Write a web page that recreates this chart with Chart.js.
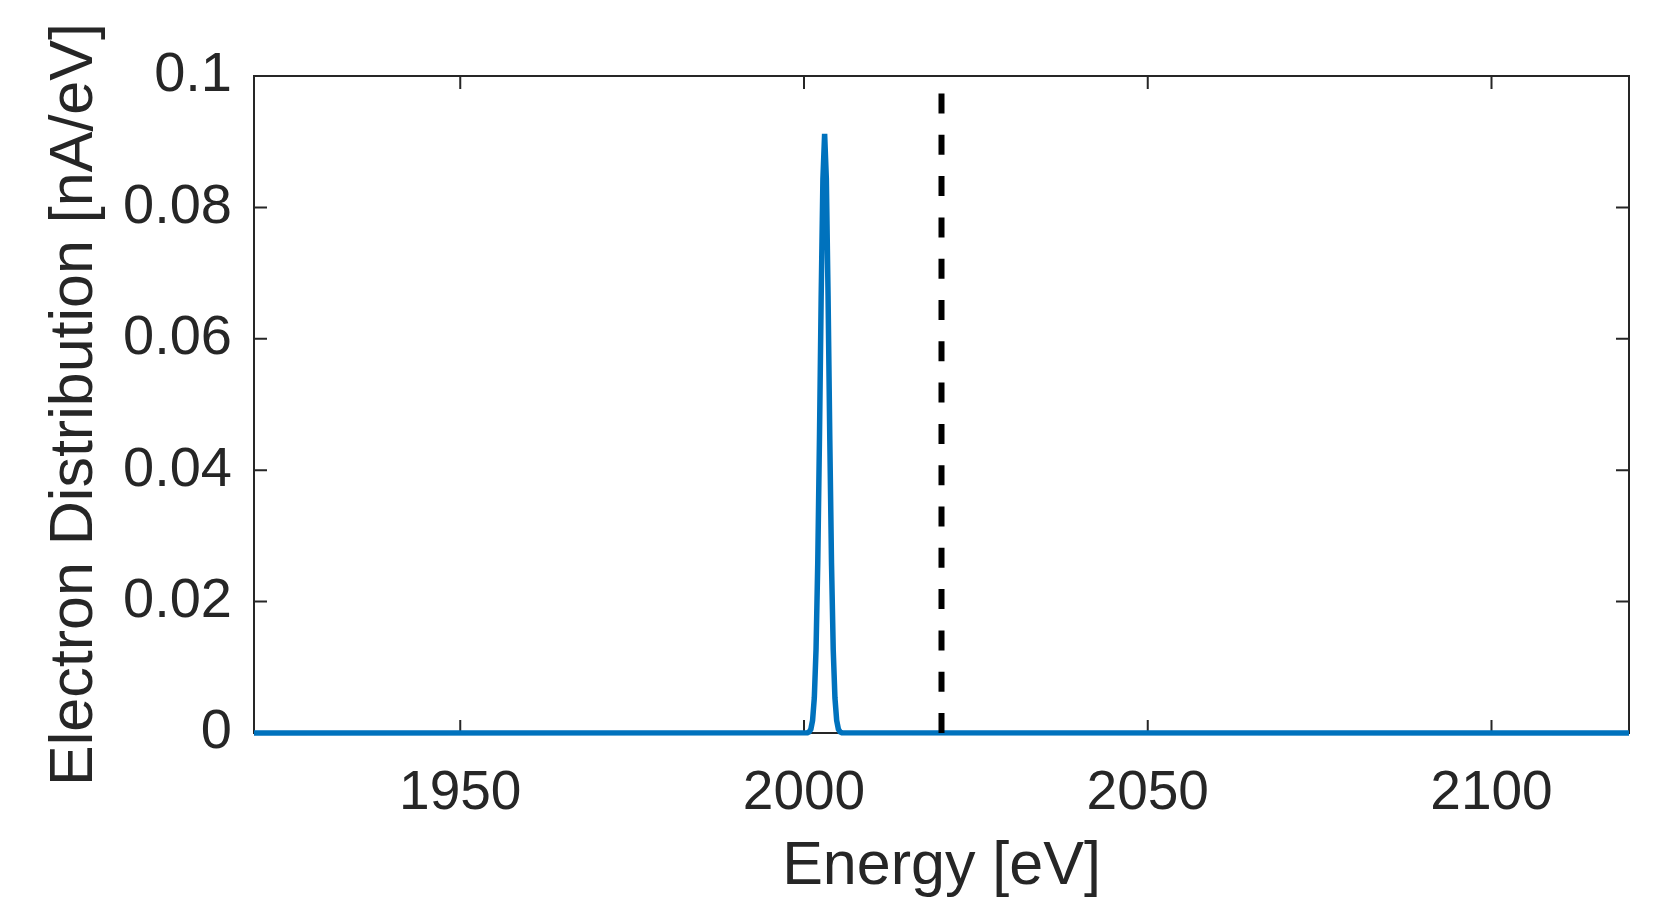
<!DOCTYPE html>
<html>
<head>
<meta charset="utf-8">
<title>Electron Distribution</title>
<script src="https://cdn.jsdelivr.net/npm/chart.js@4.4.1/dist/chart.umd.min.js"></script>
<style>
  html, body { margin: 0; padding: 0; background: #ffffff; }
  #wrap { width: 1669px; height: 899px; }
  canvas { display: block; }
</style>
</head>
<body>
<div id="wrap"><canvas id="chart" width="1669" height="899"></canvas></div>
<script>
// Energy samples [eV] and electron distribution [nA/eV]
const energies = [1920, 2000.5, 2000.75, 2001, 2001.25, 2001.5, 2001.75, 2002, 2002.25, 2002.5, 2002.75,
  2003, 2003.25, 2003.5, 2003.75, 2004, 2004.25, 2004.5, 2004.75, 2005, 2005.25, 2005.5, 2120];
const distribution = [0, 0.00003, 0.00016, 0.00059, 0.00193, 0.00536, 0.0127, 0.0259, 0.0449, 0.0666, 0.0843,
  0.0912, 0.0843, 0.0666, 0.0449, 0.0259, 0.0127, 0.00536, 0.00193, 0.00059, 0.00016, 0.00003, 0];

// Reference energy marker (dashed vertical line)
const markerEnergy = [2020, 2020];
const markerLevel = [0, 0.1];

// Axis limits and ticks
const xRange = [1920, 2120];
const yRange = [0, 0.1];
const xTicks = [1950, 2000, 2050, 2100];
const yTicks = [0, 0.02, 0.04, 0.06, 0.08, 0.1];
const yTickLabels = ['0', '0.02', '0.04', '0.06', '0.08', '0.1'];

const AXIS_COLOR = '#262626';
const FONT = '"Liberation Sans", Arial, Helvetica, sans-serif';

// Box around the plot area with inward tick marks on all four sides
const boxAxes = {
  id: 'boxAxes',
  beforeDatasetsDraw(chart) {
    const { ctx, chartArea: a, scales } = chart;
    const len = 13;
    ctx.save();
    ctx.strokeStyle = AXIS_COLOR;
    ctx.lineWidth = 2;
    ctx.beginPath();
    xTicks.forEach(v => {
      const px = scales.x.getPixelForValue(v);
      ctx.moveTo(px, a.bottom); ctx.lineTo(px, a.bottom - len);
      ctx.moveTo(px, a.top); ctx.lineTo(px, a.top + len);
    });
    yTicks.forEach(v => {
      const py = scales.y.getPixelForValue(v);
      ctx.moveTo(a.left, py); ctx.lineTo(a.left + len, py);
      ctx.moveTo(a.right, py); ctx.lineTo(a.right - len, py);
    });
    ctx.stroke();
    ctx.strokeRect(a.left, a.top, a.right - a.left, a.bottom - a.top);
    ctx.restore();
  }
};

const bg = {
  id: 'bg',
  beforeDraw(chart) {
    const { ctx, width, height } = chart;
    ctx.save();
    ctx.fillStyle = '#ffffff';
    ctx.fillRect(0, 0, width, height);
    ctx.restore();
  }
};

new Chart(document.getElementById('chart'), {
  type: 'line',
  data: {
    datasets: [
      {
        data: energies.map((e, i) => ({ x: e, y: distribution[i] })),
        borderColor: '#0072BD',
        borderWidth: 5.5,
        pointRadius: 0,
        tension: 0,
        clip: false,
        order: 2
      },
      {
        data: markerEnergy.map((e, i) => ({ x: e, y: markerLevel[i] })),
        borderColor: '#000000',
        borderWidth: 6,
        borderDash: [20, 21.3],
        pointRadius: 0,
        tension: 0,
        order: 1
      }
    ]
  },
  options: {
    responsive: false,
    devicePixelRatio: 1,
    animation: false,
    events: [],
    layout: { padding: { left: 0, right: 40, top: 76, bottom: 0 } },
    plugins: { legend: { display: false }, tooltip: { enabled: false }, title: { display: false } },
    scales: {
      x: {
        type: 'linear',
        min: xRange[0],
        max: xRange[1],
        afterBuildTicks: s => { s.ticks = xTicks.map(v => ({ value: v })); },
        afterFit: s => { s.height = 166; },
        grid: { display: false, drawTicks: false },
        border: { display: false },
        ticks: {
          padding: 28,
          maxRotation: 0,
          autoSkip: false,
          color: AXIS_COLOR,
          font: { family: FONT, size: 55 },
          callback: v => String(v)
        },
        title: {
          display: true,
          text: 'Energy [eV]',
          color: AXIS_COLOR,
          font: { family: FONT, size: 61, lineHeight: 1.05 },
          padding: { top: 0, bottom: 0 }
        }
      },
      y: {
        type: 'linear',
        min: yRange[0],
        max: yRange[1],
        afterBuildTicks: s => { s.ticks = yTicks.map(v => ({ value: v })); },
        afterFit: s => { s.width = 254; },
        grid: { display: false, drawTicks: false },
        border: { display: false },
        ticks: {
          padding: 22,
          autoSkip: false,
          color: AXIS_COLOR,
          font: { family: FONT, size: 56 },
          callback: (v, i) => yTickLabels[i]
        },
        title: {
          display: true,
          text: 'Electron Distribution [nA/eV]',
          color: AXIS_COLOR,
          font: { family: FONT, size: 61 },
          padding: { top: 39, bottom: 0 }
        }
      }
    }
  },
  plugins: [bg, boxAxes]
});
</script>
</body>
</html>
